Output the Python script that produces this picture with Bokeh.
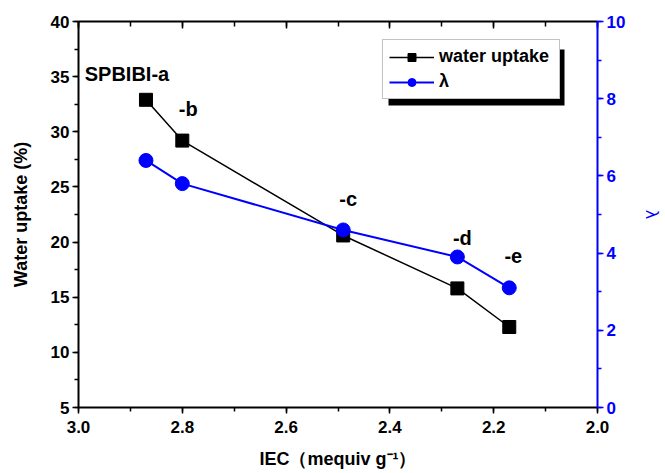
from bokeh.plotting import figure
from bokeh.models import (Range1d, LinearAxis, SingleIntervalTicker, PrintfTickFormatter,
                          Legend, LegendItem, ColumnDataSource, BoxAnnotation,
                          CustomJSTickFormatter)
from bokeh.core.properties import value
from bokeh.embed import file_html
from bokeh.resources import INLINE

# ---- data ----
samples = ["SPBIBI-a", "-b", "-c", "-d", "-e"]
iec = [2.87, 2.80, 2.49, 2.27, 2.17]
water_uptake = [32.9, 29.2, 20.6, 15.8, 12.3]
lam = [6.4, 5.8, 4.6, 3.9, 3.1]

# label pixel offsets relative to the water-uptake point (style)
label_dx = [-19, 6, 5, 5, 4]
label_dy = [-26, -32, -36, -50, -71]

FONT = "Liberation Sans"
BLUE = "#0000FF"

p = figure(width=665, height=473, output_backend="svg", toolbar_location=None,
           x_range=Range1d(3.0, 2.0), y_range=Range1d(5, 40),
           min_border_left=78, min_border_right=67, min_border_top=21, min_border_bottom=66)
p.extra_y_ranges = {"lam": Range1d(0, 10)}
p.xgrid.visible = False
p.ygrid.visible = False
p.outline_line_color = None
p.background_fill_color = "white"
p.border_fill_color = "white"

def style_axis(ax, color="black"):
    ax.axis_line_color = color
    ax.axis_line_width = 2
    ax.major_tick_line_color = color
    ax.minor_tick_line_color = color
    ax.major_tick_line_width = 1.5
    ax.minor_tick_line_width = 1.5
    ax.major_label_text_color = color
    ax.major_label_text_font = FONT
    ax.major_label_text_font_style = "bold"
    ax.major_label_text_font_size = "17px"
    ax.axis_label_text_color = color
    ax.axis_label_text_font = FONT
    ax.axis_label_text_font_style = "bold"
    ax.axis_label_text_font_size = "18px"

# bottom axis
xa = p.xaxis[0]
xa.ticker = SingleIntervalTicker(interval=0.2, num_minor_ticks=2)
xa.formatter = PrintfTickFormatter(format="%.1f")
style_axis(xa)
xa.major_tick_out = 6
xa.major_tick_in = 0
xa.minor_tick_out = 4
xa.minor_tick_in = 0
xa.major_label_standoff = 7
xa.axis_label = "IEC（mequiv g⁻¹）"
xa.axis_label_standoff = 13

# left axis
ya = p.yaxis[0]
ya.ticker = SingleIntervalTicker(interval=5, num_minor_ticks=2)
style_axis(ya)
ya.major_tick_out = 6
ya.major_tick_in = 0
ya.minor_tick_out = 4
ya.minor_tick_in = 0
ya.major_label_standoff = 3
ya.axis_label = "Water uptake (%)"
ya.axis_label_standoff = 17

# top axis (frame with inward ticks, no labels)
top = LinearAxis(ticker=SingleIntervalTicker(interval=0.2, num_minor_ticks=2),
                 formatter=CustomJSTickFormatter(code="return '';"))
style_axis(top)
top.major_tick_in = 7
top.major_tick_out = 0
top.minor_tick_in = 5
top.minor_tick_out = 0
top.major_label_standoff = 0
p.add_layout(top, "above")

# right axis
ra = LinearAxis(y_range_name="lam", ticker=SingleIntervalTicker(interval=2, num_minor_ticks=2))
style_axis(ra, BLUE)
ra.major_tick_out = 6
ra.major_tick_in = 0
ra.minor_tick_out = 4
ra.minor_tick_in = 0
ra.major_label_standoff = 3
ra.axis_label = "λ"
ra.axis_label_text_font_style = "normal"
ra.axis_label_standoff = 14
p.add_layout(ra, "right")

# data
src = ColumnDataSource(dict(x=iec, w=water_uptake, l=lam, t=samples, dx=label_dx, dy=label_dy))
wl = p.line("x", "w", source=src, line_color="black", line_width=1.5)
ws = p.scatter("x", "w", source=src, marker="square", size=13, fill_color="black", line_color="black")
ll = p.line("x", "l", source=src, line_color=BLUE, line_width=2, y_range_name="lam")
ls = p.scatter("x", "l", source=src, marker="circle", size=14, fill_color=BLUE, line_color=BLUE,
               y_range_name="lam")

p.text("x", "w", text="t", source=src, x_offset="dx", y_offset="dy",
       text_font=value(FONT), text_font_style="bold", text_font_size="20px",
       text_align="center", text_baseline="middle", text_color="black")

# legend with drop shadow
LG_X, LG_Y = 304, 308          # legend bottom-left, px from frame bottom-left
PAD, GW, GH, SPC, STAND, LW = 6, 45, 20, 4, 5, 114
LG_W = 2 * PAD + GW + STAND + LW
LG_H = 2 * PAD + 2 * GH + SPC
SH = 6

shadow = BoxAnnotation(left=LG_X + SH, right=LG_X + SH + LG_W,
                       bottom=LG_Y - SH, top=LG_Y - SH + LG_H,
                       left_units="screen", right_units="screen",
                       bottom_units="screen", top_units="screen",
                       fill_color="black", fill_alpha=1, line_color=None)
p.add_layout(shadow, "center")

lg = Legend(items=[LegendItem(label="water uptake", renderers=[wl, ws]),
                   LegendItem(label="λ", renderers=[ll, ls])],
            location=(LG_X, LG_Y), orientation="vertical")
lg.glyph_width = GW
lg.glyph_height = GH
lg.label_height = GH
lg.label_width = LW
lg.spacing = SPC
lg.padding = PAD
lg.margin = 0
lg.label_standoff = STAND
lg.label_text_font = FONT
lg.label_text_font_style = "bold"
lg.label_text_font_size = "18px"
lg.background_fill_color = "white"
lg.background_fill_alpha = 1
lg.border_line_color = "#888888"
lg.border_line_width = 1.5
lg.label_text_color = "black"
p.add_layout(lg, "center")

open("out.html", "w").write(file_html(p, INLINE))
